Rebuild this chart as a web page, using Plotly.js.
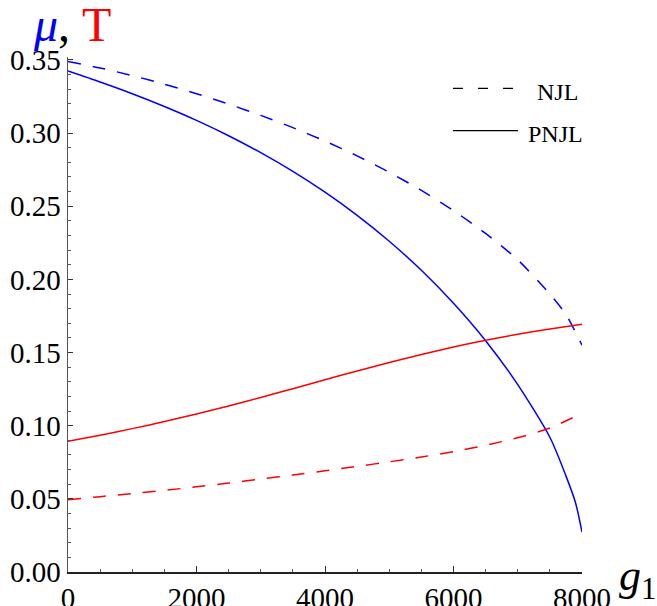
<!DOCTYPE html>
<html>
<head>
<meta charset="utf-8">
<script src="https://cdn.plot.ly/plotly-3.0.1.min.js"></script>
<style>
html,body{margin:0;padding:0;background:#fff;}
#chart{width:657px;height:606px;}
</style>
</head>
<body>
<div id="chart"></div>
<script>
// g1 grid
var g1 = [0,500,1000,1500,2000,2500,3000,3500,4000,4500,5000,5500,6000,6500,7000,7500,8000];

// mu, NJL (blue dashed)
var g1MuNJL = [0,500,1000,1500,2000,2500,3000,3500,4000,4500,5000,5500,6000,6500,7000,7500,7750,8000];
var muNJL   = [0.349,0.3445,0.3393,0.3334,0.3269,0.3198,0.3121,0.3037,0.2945,0.2844,0.2732,0.2608,0.247,0.2314,0.2134,0.19,0.176,0.155];

// mu, PNJL (blue solid)
var g1MuPNJL = [0,500,1000,1500,2000,2500,3000,3500,4000,4500,5000,5500,6000,6500,7000,7500,7750,7900,8000];
var muPNJL   = [0.3424,0.3349,0.3269,0.3182,0.3087,0.2982,0.2866,0.2738,0.2596,0.2438,0.2261,0.2062,0.1837,0.1581,0.1281,0.0921,0.0657,0.0472,0.0273];

// T, PNJL (red solid)
var tPNJL = [0.0893,0.0935,0.098,0.1028,0.108,0.1135,0.1193,0.1253,0.1314,0.1374,0.1432,0.1487,0.1538,0.1584,0.1625,0.1661,0.1693];

// T, NJL (red dashed)
var tNJL = [0.0494,0.0515,0.0536,0.0558,0.0582,0.0608,0.0635,0.0663,0.0692,0.0722,0.0753,0.0786,0.0823,0.0866,0.0918,0.0984,0.1086];

var xTicks = [0,2000,4000,6000,8000];
var yTicks = [0,0.05,0.1,0.15,0.2,0.25,0.3,0.35];
var legendLabels = ['NJL','PNJL'];

var BLUE = '#0000ff', RED = '#ff0000';
var DASH = '13px,12px';
var SERIF = 'Liberation Serif, Times New Roman, serif';

var traces = [
  {x:g1MuNJL, y:muNJL, mode:'lines', line:{color:BLUE, width:1.5, dash:DASH, shape:'spline', smoothing:0.7}},
  {x:g1MuPNJL, y:muPNJL, mode:'lines', line:{color:BLUE, width:1.5, shape:'spline', smoothing:0.7}},
  {x:g1, y:tPNJL, mode:'lines', line:{color:RED, width:1.5, shape:'spline', smoothing:0.7}},
  {x:g1, y:tNJL, mode:'lines', line:{color:RED, width:1.5, dash:DASH, shape:'spline', smoothing:0.7}}
];

var tickFont = {family:SERIF, size:29, color:'#000'};

var layout = {
  width:657, height:606,
  margin:{l:68, r:75, t:57, b:34},
  paper_bgcolor:'#fff', plot_bgcolor:'#fff',
  showlegend:false,
  font:{family:SERIF},
  xaxis:{
    range:[0,8000], tickvals:xTicks, ticktext:xTicks.map(String),
    ticks:'inside', ticklen:6, tickwidth:1, tickcolor:'#333',
    minor:{dtick:500, ticks:'inside', ticklen:3.5, tickcolor:'#555', tickwidth:1, showgrid:false},
    showline:true, linecolor:'#222', linewidth:1.5, mirror:false,
    showgrid:false, zeroline:false, tickfont:tickFont
  },
  yaxis:{
    range:[0,0.352], tickvals:yTicks, ticktext:yTicks.map(function(v){return v.toFixed(2);}),
    ticks:'inside', ticklen:5, tickwidth:1, tickcolor:'#333',
    minor:{dtick:0.01, ticks:'inside', ticklen:3.3, tickcolor:'#555', tickwidth:1, showgrid:false},
    showline:true, linecolor:'#555', linewidth:1.5, mirror:false,
    showgrid:false, zeroline:false, tickfont:tickFont
  },
  shapes:[
    {type:'line', xref:'paper', yref:'paper', x0:0.749, x1:0.8755, y0:0.939, y1:0.939, line:{color:'#000', width:1.3, dash:'10px,15px'}},
    {type:'line', xref:'paper', yref:'paper', x0:0.749, x1:0.8755, y0:0.857, y1:0.857, line:{color:'#000', width:1.3}}
  ],
  annotations:[
    {xref:'paper', yref:'paper', x:0.908, y:0.9326, xanchor:'left', yanchor:'middle', showarrow:false,
     text:legendLabels[0], font:{family:SERIF, size:24, color:'#000'}},
    {xref:'paper', yref:'paper', x:0.892, y:0.8505, xanchor:'left', yanchor:'middle', showarrow:false,
     text:legendLabels[1], font:{family:SERIF, size:24, color:'#000'}},
    {xref:'paper', yref:'paper', x:-0.072, y:1.064, xanchor:'left', yanchor:'middle', showarrow:false,
     text:'<span style="color:#0000ff"><i>μ</i></span>, <span style="color:#ff0000">T</span>',
     font:{family:SERIF, size:48, color:'#000'}},
    {xref:'paper', yref:'paper', x:1.068, y:-0.012, xanchor:'left', yanchor:'middle', showarrow:false,
     text:'<i>g</i><sub>1</sub>', font:{family:SERIF, size:44, color:'#000'}}
  ]
};

Plotly.newPlot('chart', traces, layout, {staticPlot:true, displayModeBar:false});
</script>
</body>
</html>
